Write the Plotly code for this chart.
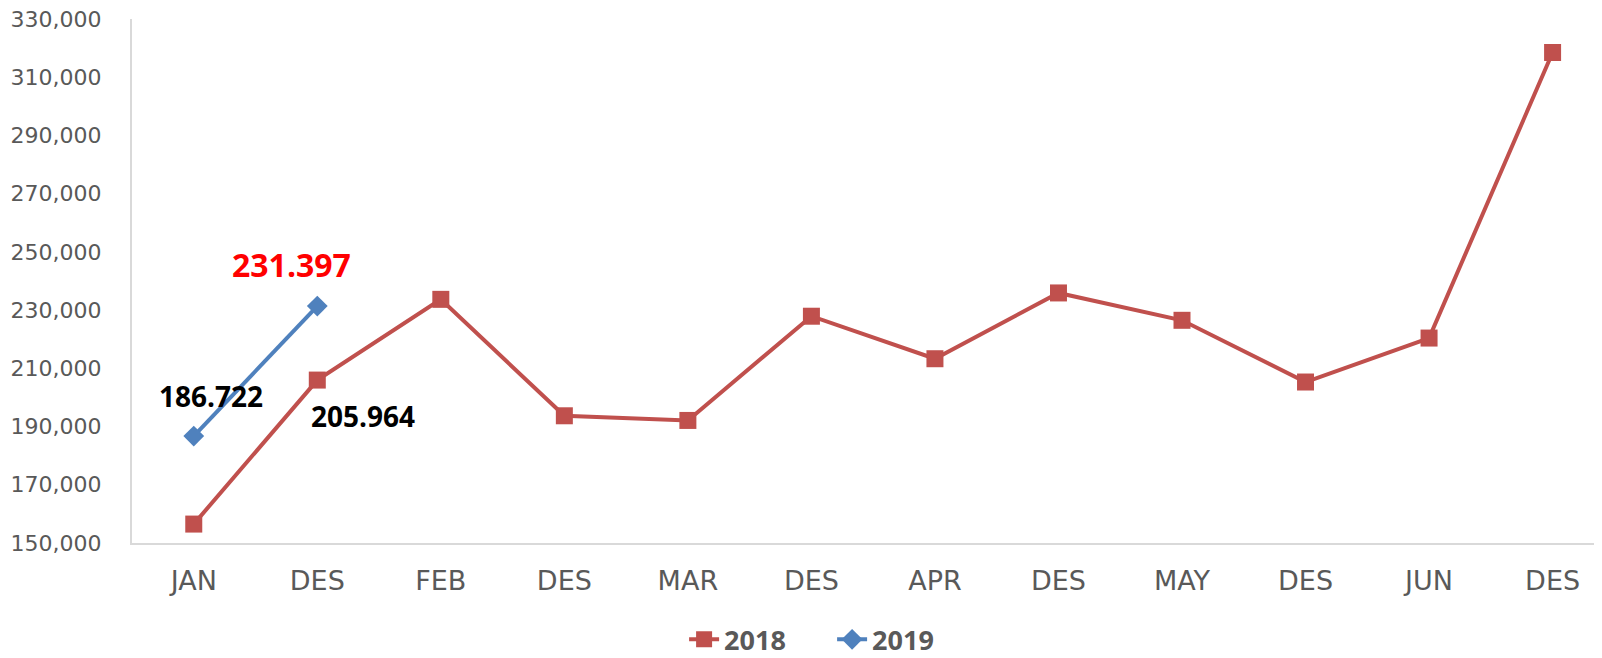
import plotly.graph_objects as go

# data
months = ["JAN", "DES", "FEB", "DES", "MAR", "DES", "APR", "DES", "MAY", "DES", "JUN", "DES"]
values_2018 = [156500, 205964, 233700, 193700, 192100, 227900, 213300, 235900, 226500, 205300, 220400, 318500]
values_2019 = [186722, 231397]

x_pos = list(range(len(months)))


def fmt_id(v):
    # 231397 -> "231.397"
    return f"{v:,}".replace(",", ".")


fig = go.Figure()

fig.add_trace(go.Scatter(
    x=x_pos, y=values_2018,
    mode="lines+markers",
    name="2018",
    line=dict(color="#C0504D", width=4),
    marker=dict(symbol="square", size=17, color="#C0504D"),
))

fig.add_trace(go.Scatter(
    x=x_pos[:len(values_2019)], y=values_2019,
    mode="lines+markers",
    name="2019",
    line=dict(color="#4F81BD", width=4),
    marker=dict(symbol="diamond", size=16, color="#4F81BD"),
))

# data labels
label_font = dict(family="Open Sans, sans-serif", size=28, color="black")
fig.add_annotation(x=x_pos[0], y=values_2019[0], text=f"<b>{fmt_id(values_2019[0])}</b>",
                   showarrow=False, xshift=17, yshift=40, font=label_font)
fig.add_annotation(x=x_pos[1], y=values_2019[1], text=f"<b>{fmt_id(values_2019[1])}</b>",
                   showarrow=False, xshift=-26, yshift=42, font=dict(label_font, size=32, color="#FF0000"))
fig.add_annotation(x=x_pos[1], y=values_2018[1], text=f"<b>{fmt_id(values_2018[1])}</b>",
                   showarrow=False, xshift=46, yshift=-36, font=label_font)

fig.update_xaxes(
    tickmode="array", tickvals=x_pos, ticktext=months,
    range=[-0.5, 11.4],
    showline=True, linecolor="#D9D9D9", linewidth=2,
    showgrid=False, zeroline=False, automargin=False,
    ticks="", ticklabelstandoff=13, ticklabeloverflow="allow",
    tickfont=dict(family="DejaVu Sans", size=27, color="#595959"),
)
fig.update_yaxes(
    range=[150000, 330000], tick0=150000, dtick=20000, tickformat=",d",
    showline=True, linecolor="#D9D9D9", linewidth=2,
    showgrid=False, zeroline=False, automargin=False,
    ticks="", ticklabelstandoff=24, ticklabeloverflow="allow",
    tickfont=dict(family="DejaVu Sans", size=22, color="#595959"),
)

# page body has an 8px margin, so the figure is 8px smaller and margins shifted
fig.update_layout(
    width=1594, height=650,
    plot_bgcolor="white", paper_bgcolor="white",
    margin=dict(l=124, r=0, t=11, b=115),
    showlegend=True,
    legend=dict(
        orientation="h",
        xref="container", yref="container",
        x=0.517, xanchor="center",
        y=0.028, yanchor="middle",
        font=dict(family="Open Sans, sans-serif", size=27, color="#595959", weight="bold"),
        entrywidth=103, entrywidthmode="pixels",
    ),
)

fig.write_html("out.html")
